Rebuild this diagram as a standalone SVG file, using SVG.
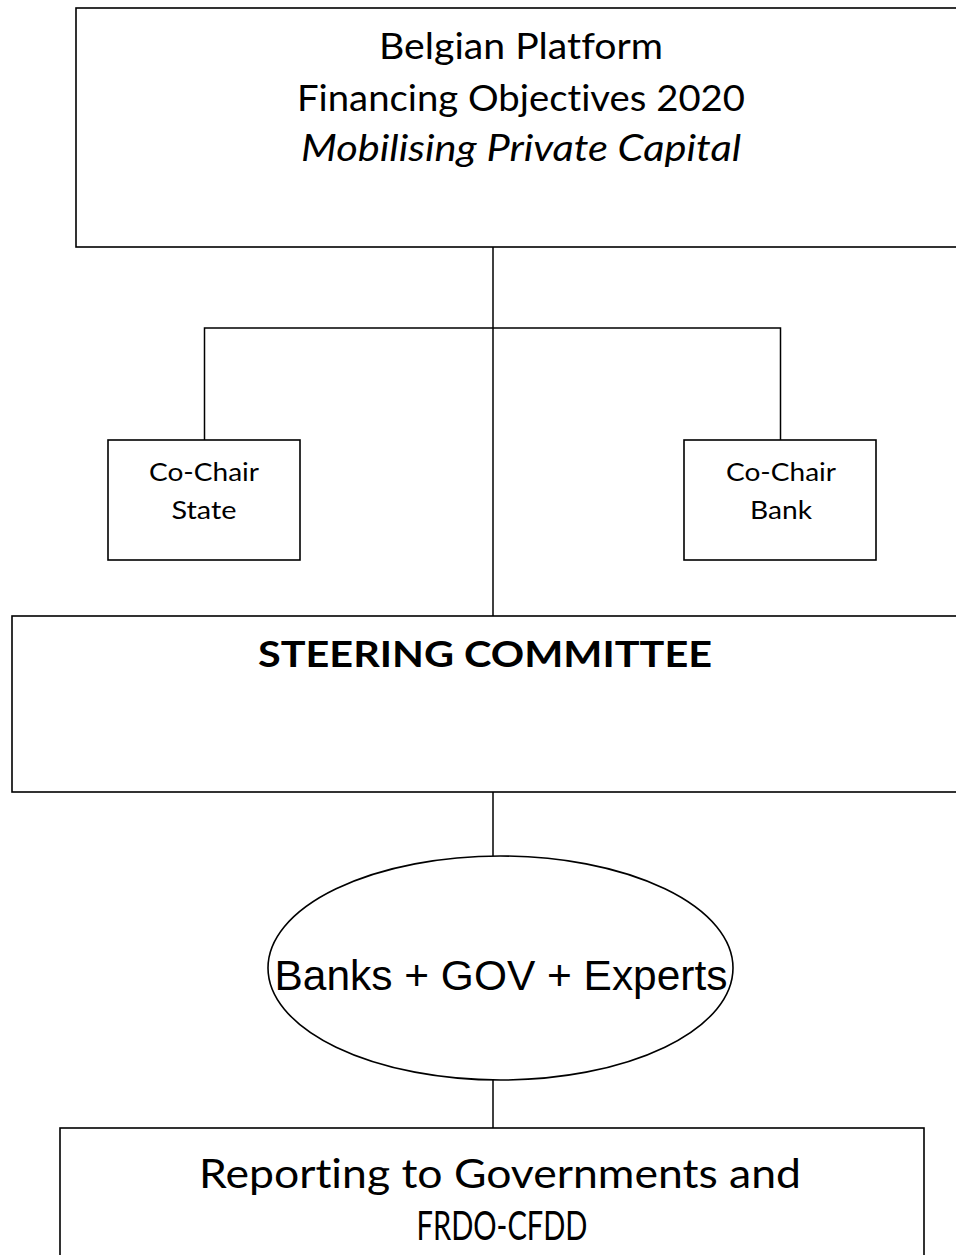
<svg xmlns="http://www.w3.org/2000/svg" width="956" height="1255" viewBox="0 0 956 1255">
<style>
.box{fill:#fff;stroke:#000;stroke-width:1.6}
.ln{fill:none;stroke:#000;stroke-width:1.5}
.t{font-family:Lato,"Open Sans","Liberation Sans",sans-serif;fill:#000;text-anchor:middle;font-variant-ligatures:none}
.a{font-family:"Liberation Sans",Arial,sans-serif;fill:#000;text-anchor:middle}
</style>
<rect width="956" height="1255" fill="#fff"/>
<g id="connectors">
<line class="ln" x1="493" y1="247" x2="493" y2="617"/>
<polyline class="ln" points="204.5,440 204.5,328 780.5,328 780.5,440"/>
<line class="ln" x1="493" y1="792" x2="493" y2="856"/>
<line class="ln" x1="493" y1="1080" x2="493" y2="1128"/>
</g>
<g id="platform">
<rect class="box" x="76" y="8" width="900" height="239"/>
<text class="t" x="521" y="59" font-size="36" textLength="284" lengthAdjust="spacingAndGlyphs">Belgian Platform</text>
<text class="t" x="521" y="111" font-size="36" textLength="448" lengthAdjust="spacingAndGlyphs">Financing Objectives 2020</text>
<text class="t" x="521" y="161" font-size="36" font-style="italic" textLength="440" lengthAdjust="spacingAndGlyphs">Mobilising Private Capital</text>
</g>
<g id="cochair-state">
<rect class="box" x="108" y="440" width="192" height="120"/>
<text class="t" x="204" y="481" font-size="25" textLength="110" lengthAdjust="spacingAndGlyphs">Co-Chair</text>
<text class="t" x="204" y="519" font-size="25" textLength="65" lengthAdjust="spacingAndGlyphs">State</text>
</g>
<g id="cochair-bank">
<rect class="box" x="684" y="440" width="192" height="120"/>
<text class="t" x="781" y="481" font-size="25" textLength="110" lengthAdjust="spacingAndGlyphs">Co-Chair</text>
<text class="t" x="781" y="519" font-size="25" textLength="62" lengthAdjust="spacingAndGlyphs">Bank</text>
</g>
<g id="steering">
<rect class="box" x="12" y="616" width="960" height="176"/>
<text class="t" x="485" y="667" font-size="36" font-weight="bold" textLength="454" lengthAdjust="spacingAndGlyphs">STEERING COMMITTEE</text>
</g>
<g id="members">
<ellipse class="box" cx="500.5" cy="968" rx="232.5" ry="112" stroke-width="1.4"/>
<text class="a" x="501" y="990" font-size="42" textLength="453" lengthAdjust="spacingAndGlyphs">Banks + GOV + Experts</text>
</g>
<g id="reporting">
<rect class="box" x="60" y="1128" width="864" height="160"/>
<text class="t" x="500" y="1188" font-size="40" textLength="602" lengthAdjust="spacingAndGlyphs">Reporting to Governments and</text>
<text class="t" x="502" y="1240" font-size="40" textLength="171" lengthAdjust="spacingAndGlyphs">FRDO-CFDD</text>
</g>
</svg>
